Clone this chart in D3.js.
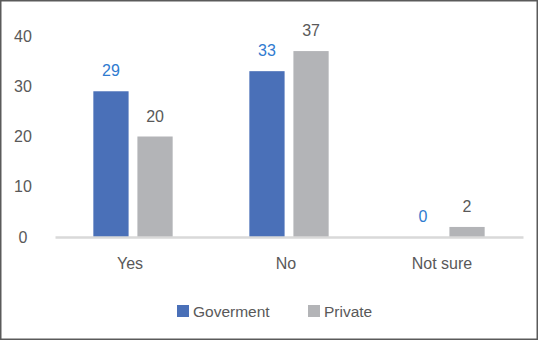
<!DOCTYPE html>
<html>
<head>
<meta charset="utf-8">
<script src="https://cdn.jsdelivr.net/npm/d3@7"></script>
<style>
  body { margin: 0; background: #fff; }
  svg { display: block; font-family: "Liberation Sans", Arial, sans-serif; }
</style>
</head>
<body>
<div id="chart"></div>
<script>
const categories = ["Yes", "No", "Not sure"];
const seriesNames = ["Goverment", "Private"];
const goverment = [29, 33, 0];
const privateVals = [20, 37, 2];
const yTicks = [0, 10, 20, 30, 40];

const colors = ["#4a70b8", "#b3b4b7"];
const labelColors = ["#2f7bd0", "#595959"];

const W = 538, H = 340;
const margin = {top: 36, right: 15, bottom: 103, left: 55};
const width = W - margin.left - margin.right;
const height = H - margin.top - margin.bottom;

const svg = d3.select("#chart").append("svg")
    .attr("width", W)
    .attr("height", H);

svg.append("rect")
    .attr("x", 0.75).attr("y", 0.75)
    .attr("width", W - 1.5).attr("height", H - 1.5)
    .attr("fill", "#fff")
    .attr("stroke", "#5a5a5a")
    .attr("stroke-width", 1.5);

const g = svg.append("g")
    .attr("transform", "translate(" + margin.left + "," + margin.top + ")");

const x = d3.scaleBand()
    .domain(categories)
    .range([0, width]);

const x1 = d3.scaleBand()
    .domain(seriesNames)
    .range([0, x.bandwidth()])
    .paddingInner(0.2)
    .paddingOuter(0.87);

const y = d3.scaleLinear()
    .domain([0, 40])
    .range([height, 0]);

// y axis labels
const yAxis = g.append("g")
    .call(d3.axisLeft(y).tickValues(yTicks).tickSize(0).tickPadding(0));
yAxis.select(".domain").remove();
yAxis.selectAll("text")
    .attr("x", -32)
    .attr("text-anchor", "middle")
    .attr("fill", "#595959")
    .style("font-size", "16px");

const rows = categories.map((c, i) => ({cat: c, values: [goverment[i], privateVals[i]]}));

const groups = g.selectAll(".grp")
    .data(rows)
    .enter()
    .append("g")
    .attr("transform", d => "translate(" + x(d.cat) + ",0)");

groups.selectAll("rect")
    .data(d => d.values.map((v, j) => ({name: seriesNames[j], v: v, j: j})))
    .enter()
    .append("rect")
    .attr("x", d => x1(d.name))
    .attr("y", d => y(d.v))
    .attr("width", x1.bandwidth())
    .attr("height", d => height - y(d.v))
    .attr("fill", d => colors[d.j]);

groups.selectAll(".val")
    .data(d => d.values.map((v, j) => ({name: seriesNames[j], v: v, j: j})))
    .enter()
    .append("text")
    .attr("x", d => x1(d.name) + x1.bandwidth() / 2)
    .attr("y", d => y(d.v) - 15)
    .attr("text-anchor", "middle")
    .attr("fill", d => labelColors[d.j])
    .style("font-size", "16px")
    .text(d => d.v);

// x axis
const xAxis = g.append("g")
    .attr("transform", "translate(0," + height + ")")
    .call(d3.axisBottom(x).tickSize(0).tickPadding(21));
xAxis.select(".domain")
    .attr("stroke", "#d9d9d9")
    .attr("stroke-width", 2.5);
xAxis.selectAll("text")
    .attr("dx", "-3")
    .attr("fill", "#595959")
    .style("font-size", "16px");

// legend
const legend = svg.append("g")
    .attr("transform", "translate(177,305)");
const items = legend.selectAll("g")
    .data(seriesNames)
    .enter()
    .append("g")
    .attr("transform", (d, i) => "translate(" + (i * 131) + ",0)");
items.append("rect")
    .attr("width", 12).attr("height", 12)
    .attr("fill", (d, i) => colors[i]);
items.append("text")
    .attr("x", 16).attr("y", 11.5)
    .attr("fill", "#595959")
    .style("font-size", "15.5px")
    .text(d => d);
</script>
</body>
</html>
